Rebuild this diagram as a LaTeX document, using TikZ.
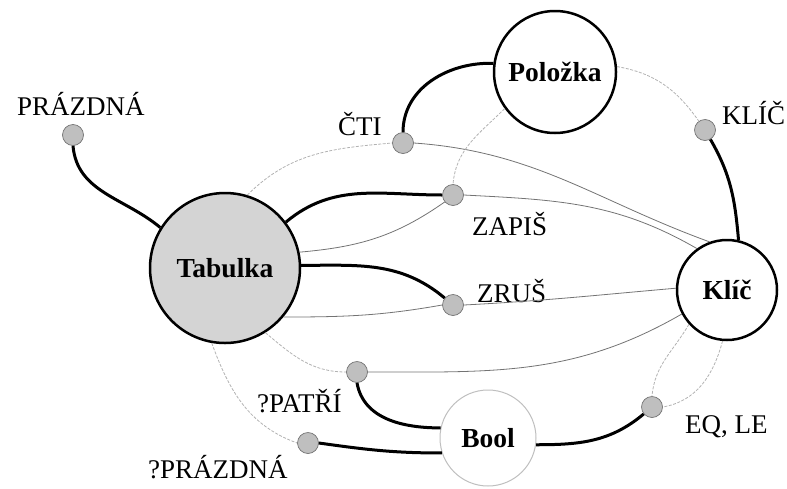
\documentclass[tikz,border=0pt]{standalone}
\usepackage{fontspec}
\setmainfont{Liberation Serif}
\begin{document}
\begin{tikzpicture}[x=1pt,y=-1pt,
  typebox/.style={circle,draw=black,line width=2.5pt,inner sep=0pt,
    font=\fontsize{27.5}{27.5}\selectfont\bfseries},
  opdot/.style={circle,draw=black!55,line width=0.7pt,fill=black!25,
    minimum size=21pt,inner sep=0pt},
  oplabel/.style={anchor=base west,inner sep=0pt,
    font=\fontsize{27}{27}\selectfont},
  result/.style={line width=3pt,black},
  arg/.style={line width=0.8pt,black!55},
  faintarg/.style={line width=0.8pt,black!30,dash pattern=on 3pt off 1.5pt}]

\useasboundingbox (0,0) rectangle (787,488);

% sorts
\node[typebox,fill=black!17,minimum size=150pt] (tab) at (225,268) {Tabulka};
\node[typebox,fill=white,minimum size=122pt] (pol) at (555,72) {Položka};
\node[typebox,fill=white,minimum size=100pt] (kl) at (727,290) {Klíč};
\node[typebox,draw=black!25,line width=1pt,minimum size=96pt] (bool) at (488,438) {Bool};

% operations
\node[opdot] (dpr)  at (73,135)  {};
\node[opdot] (dcti) at (403,143) {};
\node[opdot] (dzap) at (453,195) {};
\node[opdot] (dzru) at (453,305) {};
\node[opdot] (dkl)  at (705,130) {};
\node[opdot] (dpat) at (357,372) {};
\node[opdot] (dppr) at (308,443) {};
\node[opdot] (deq)  at (652,407) {};

% operation names
\node[oplabel] (lpr)  at (17,115)  {PRÁZDNÁ};
\node[oplabel] (lcti) at (338,135) {ČTI};
\node[oplabel] (lzap) at (472,235) {ZAPIŠ};
\node[oplabel] (lzru) at (477,302) {ZRUŠ};
\node[oplabel] (lkl)  at (722,124) {KLÍČ};
\node[oplabel] (lpat) at (257,412) {?PATŘÍ};
\node[oplabel] (lppr) at (148,478) {?PRÁZDNÁ};
\node[oplabel] (leq)  at (685,433) {EQ, LE};

% arguments (thin)
\draw[faintarg] (tab.73) to[out=45,in=185] (dcti.west);
\draw[arg] (dcti.east) to[out=-4,in=160] (kl.110);
\draw[arg] (dzap.east) to[out=-3,in=150] (kl.126);
\draw[faintarg] (pol.216) to[out=225,in=85] (dzap.north);
\draw[arg] (tab.12) to[out=5,in=215] (dzap.220);
\draw[arg] (tab.-40) to[out=0,in=190] (dzru.west);
\draw[arg] (dzru.east) to[out=3,in=185] (kl.178);
\draw[faintarg] (tab.-58) to[out=-40,in=180] (dpat.west);
\draw[arg] (dpat.east) to[out=0,in=210] (kl.208);
\draw[faintarg] (tab.-100) to[out=-70,in=160] (dppr.west);
\draw[faintarg] (kl.222) to[out=240,in=85] (deq.north);
\draw[faintarg] (kl.-95) to[out=-105,in=10] (deq.east);
\draw[faintarg] (pol.5) to[out=-10,in=125] (dkl.125);

% results (thick)
\draw[result] (dpr.south) to[out=-85,in=140] (tab.148);
\draw[result] (pol.172) to[out=178,in=90] (dcti.north);
\draw[result] (tab.37) to[out=40,in=180] (dzap.west);
\draw[result] (tab.2) to[out=0,in=140] (dzru.140);
\draw[result] (kl.77) to[out=95,in=-60] (dkl.-60);
\draw[result] (dpat.south) to[out=-80,in=180] (bool.168);
\draw[result] (dppr.east) to[out=-8,in=180] (bool.198);
\draw[result] (bool.-8) to[out=0,in=-140] (deq.-140);
\end{tikzpicture}
\end{document}
